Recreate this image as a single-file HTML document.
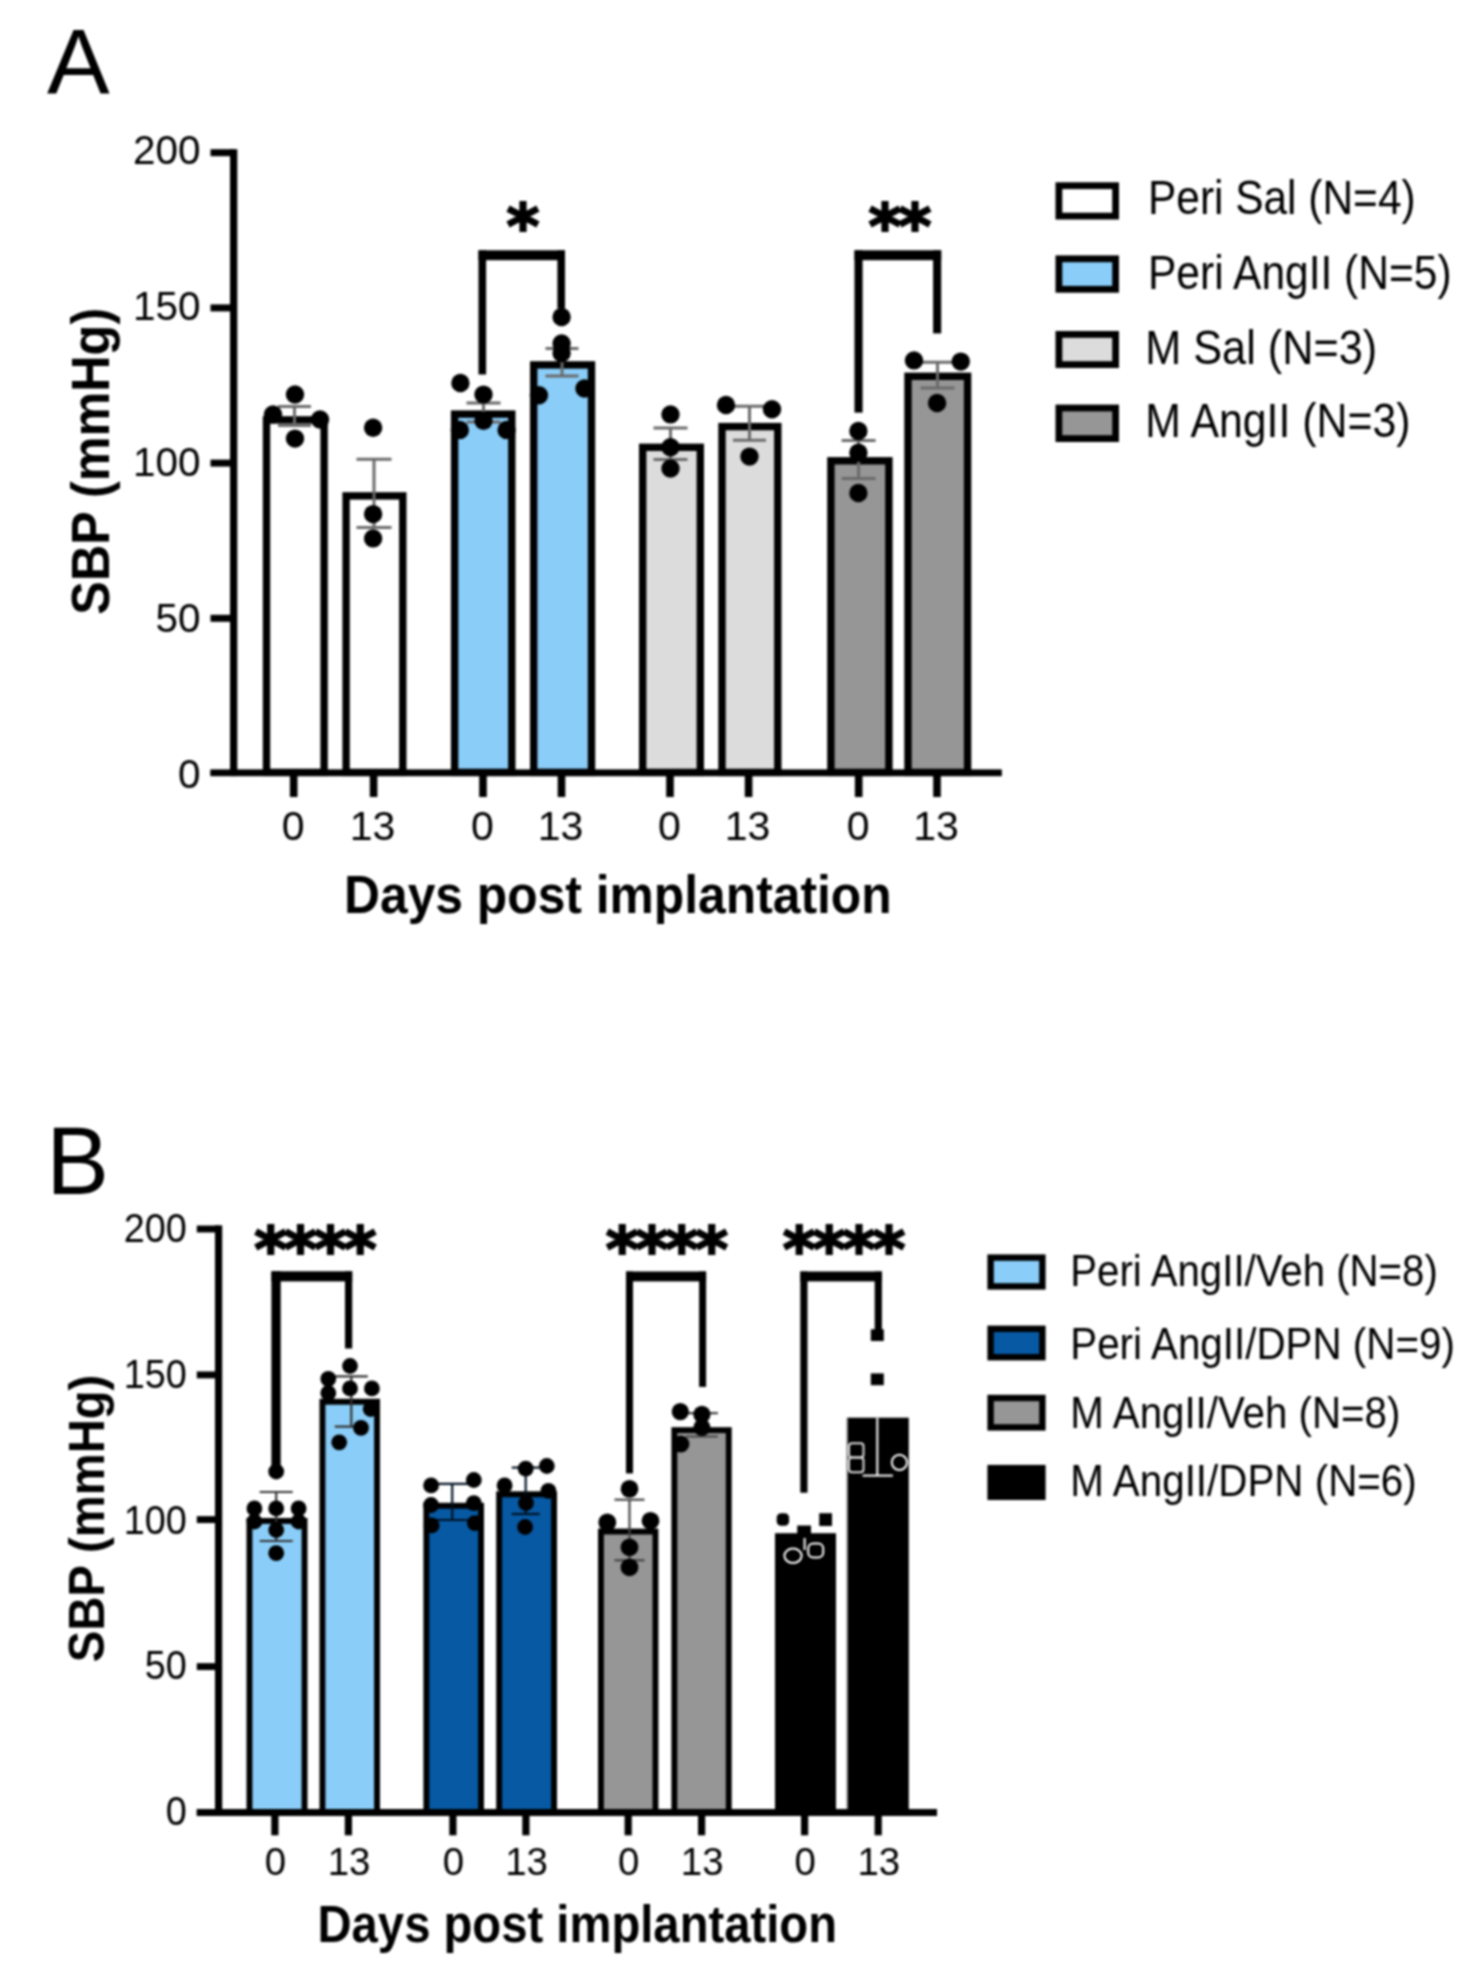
<!DOCTYPE html>
<html><head><meta charset="utf-8"><title>SBP figure</title>
<style>
html,body{margin:0;padding:0;background:#fff;}
svg{display:block;filter:blur(0.8px);}
text{fill:#000;}
</style></head><body>
<svg width="1480" height="1982" viewBox="0 0 1480 1982">
<rect x="0" y="0" width="1480" height="1982" fill="#fff"/>
<text transform="translate(47.06,93.70) scale(1.0062,1)" font-size="93.46" font-weight="normal" font-family="'Liberation Sans', sans-serif" >A</text>
<rect x="230.00" y="149.20" width="7.30" height="626.90" fill="#000"/>
<rect x="210.50" y="769.60" width="791.10" height="6.50" fill="#000"/>
<rect x="210.50" y="149.20" width="23.50" height="7.00" fill="#000"/>
<text x="200.60" y="164.40" font-size="40.5" text-anchor="end" font-weight="normal" font-family="'Liberation Sans', sans-serif" >200</text>
<rect x="210.50" y="304.40" width="23.50" height="7.00" fill="#000"/>
<text x="200.60" y="320.20" font-size="40.5" text-anchor="end" font-weight="normal" font-family="'Liberation Sans', sans-serif" >150</text>
<rect x="210.50" y="459.60" width="23.50" height="7.00" fill="#000"/>
<text x="200.60" y="476.00" font-size="40.5" text-anchor="end" font-weight="normal" font-family="'Liberation Sans', sans-serif" >100</text>
<rect x="210.50" y="614.80" width="23.50" height="7.00" fill="#000"/>
<text x="200.60" y="631.80" font-size="40.5" text-anchor="end" font-weight="normal" font-family="'Liberation Sans', sans-serif" >50</text>
<text x="200.60" y="787.60" font-size="40.5" text-anchor="end" font-weight="normal" font-family="'Liberation Sans', sans-serif" >0</text>
<rect x="266.50" y="419.90" width="57.60" height="352.50" fill="#fff" stroke="#000" stroke-width="7.4"/>
<rect x="346.10" y="495.90" width="56.70" height="276.50" fill="#fff" stroke="#000" stroke-width="7.4"/>
<rect x="454.60" y="414.10" width="57.20" height="358.30" fill="#8ACDF8" stroke="#000" stroke-width="7.4"/>
<rect x="533.70" y="364.90" width="57.80" height="407.50" fill="#8ACDF8" stroke="#000" stroke-width="7.4"/>
<rect x="642.70" y="447.30" width="57.60" height="325.10" fill="#DCDCDC" stroke="#000" stroke-width="7.4"/>
<rect x="722.00" y="426.60" width="55.80" height="345.80" fill="#DCDCDC" stroke="#000" stroke-width="7.4"/>
<rect x="830.90" y="460.80" width="58.00" height="311.60" fill="#969696" stroke="#000" stroke-width="7.4"/>
<rect x="908.00" y="376.30" width="59.60" height="396.10" fill="#969696" stroke="#000" stroke-width="7.4"/>
<line x1="294.50" y1="406.50" x2="294.50" y2="425.50" stroke="#6a6a6a" stroke-width="3" stroke-linecap="butt"/>
<line x1="278.00" y1="406.50" x2="311.00" y2="406.50" stroke="#6a6a6a" stroke-width="3" stroke-linecap="butt"/>
<line x1="278.00" y1="425.50" x2="311.00" y2="425.50" stroke="#6a6a6a" stroke-width="3" stroke-linecap="butt"/>
<line x1="374.00" y1="459.20" x2="374.00" y2="527.50" stroke="#6a6a6a" stroke-width="3" stroke-linecap="butt"/>
<line x1="356.50" y1="459.20" x2="391.50" y2="459.20" stroke="#6a6a6a" stroke-width="3" stroke-linecap="butt"/>
<line x1="356.50" y1="527.50" x2="391.50" y2="527.50" stroke="#6a6a6a" stroke-width="3" stroke-linecap="butt"/>
<line x1="483.50" y1="403.10" x2="483.50" y2="422.00" stroke="#6a6a6a" stroke-width="3" stroke-linecap="butt"/>
<line x1="466.50" y1="403.10" x2="500.50" y2="403.10" stroke="#6a6a6a" stroke-width="3" stroke-linecap="butt"/>
<line x1="466.50" y1="422.00" x2="500.50" y2="422.00" stroke="#6a6a6a" stroke-width="3" stroke-linecap="butt"/>
<line x1="562.00" y1="348.40" x2="562.00" y2="376.10" stroke="#6a6a6a" stroke-width="3" stroke-linecap="butt"/>
<line x1="545.50" y1="348.40" x2="578.50" y2="348.40" stroke="#6a6a6a" stroke-width="3" stroke-linecap="butt"/>
<line x1="545.50" y1="376.10" x2="578.50" y2="376.10" stroke="#6a6a6a" stroke-width="3" stroke-linecap="butt"/>
<line x1="670.50" y1="428.00" x2="670.50" y2="459.40" stroke="#6a6a6a" stroke-width="3" stroke-linecap="butt"/>
<line x1="653.50" y1="428.00" x2="687.50" y2="428.00" stroke="#6a6a6a" stroke-width="3" stroke-linecap="butt"/>
<line x1="653.50" y1="459.40" x2="687.50" y2="459.40" stroke="#6a6a6a" stroke-width="3" stroke-linecap="butt"/>
<line x1="749.50" y1="406.20" x2="749.50" y2="440.30" stroke="#6a6a6a" stroke-width="3" stroke-linecap="butt"/>
<line x1="733.00" y1="406.20" x2="766.00" y2="406.20" stroke="#6a6a6a" stroke-width="3" stroke-linecap="butt"/>
<line x1="733.00" y1="440.30" x2="766.00" y2="440.30" stroke="#6a6a6a" stroke-width="3" stroke-linecap="butt"/>
<line x1="858.60" y1="440.40" x2="858.60" y2="478.40" stroke="#6a6a6a" stroke-width="3" stroke-linecap="butt"/>
<line x1="841.60" y1="440.40" x2="875.60" y2="440.40" stroke="#6a6a6a" stroke-width="3" stroke-linecap="butt"/>
<line x1="841.60" y1="478.40" x2="875.60" y2="478.40" stroke="#6a6a6a" stroke-width="3" stroke-linecap="butt"/>
<line x1="937.50" y1="362.20" x2="937.50" y2="388.10" stroke="#6a6a6a" stroke-width="3" stroke-linecap="butt"/>
<line x1="920.50" y1="362.20" x2="954.50" y2="362.20" stroke="#6a6a6a" stroke-width="3" stroke-linecap="butt"/>
<line x1="920.50" y1="388.10" x2="954.50" y2="388.10" stroke="#6a6a6a" stroke-width="3" stroke-linecap="butt"/>
<circle cx="295.00" cy="394.50" r="9.2" fill="#000"/>
<circle cx="273.00" cy="414.50" r="9.2" fill="#000"/>
<circle cx="320.00" cy="419.50" r="9.2" fill="#000"/>
<circle cx="295.00" cy="438.60" r="9.2" fill="#000"/>
<circle cx="373.10" cy="427.80" r="9.2" fill="#000"/>
<circle cx="373.10" cy="514.10" r="9.2" fill="#000"/>
<circle cx="373.10" cy="538.40" r="9.2" fill="#000"/>
<circle cx="460.40" cy="383.00" r="9.2" fill="#000"/>
<circle cx="483.50" cy="394.60" r="9.2" fill="#000"/>
<circle cx="483.50" cy="420.70" r="9.2" fill="#000"/>
<circle cx="459.80" cy="429.90" r="9.2" fill="#000"/>
<circle cx="506.60" cy="429.90" r="9.2" fill="#000"/>
<circle cx="561.60" cy="317.00" r="9.2" fill="#000"/>
<circle cx="561.60" cy="343.50" r="9.2" fill="#000"/>
<circle cx="561.60" cy="353.00" r="9.2" fill="#000"/>
<circle cx="538.90" cy="395.20" r="9.2" fill="#000"/>
<circle cx="584.50" cy="388.50" r="9.2" fill="#000"/>
<circle cx="670.50" cy="414.40" r="9.2" fill="#000"/>
<circle cx="670.50" cy="447.20" r="9.2" fill="#000"/>
<circle cx="670.50" cy="468.50" r="9.2" fill="#000"/>
<circle cx="726.00" cy="405.00" r="9.2" fill="#000"/>
<circle cx="772.00" cy="409.20" r="9.2" fill="#000"/>
<circle cx="749.50" cy="456.60" r="9.2" fill="#000"/>
<circle cx="858.40" cy="431.00" r="9.2" fill="#000"/>
<circle cx="858.40" cy="452.80" r="9.2" fill="#000"/>
<circle cx="858.40" cy="493.00" r="9.2" fill="#000"/>
<circle cx="914.00" cy="360.40" r="9.2" fill="#000"/>
<circle cx="960.80" cy="361.60" r="9.2" fill="#000"/>
<circle cx="937.10" cy="403.00" r="9.2" fill="#000"/>
<rect x="210.50" y="769.60" width="791.10" height="6.50" fill="#000"/>
<rect x="289.90" y="775.10" width="7.60" height="21.90" fill="#000"/>
<text x="293.10" y="840.00" font-size="41" text-anchor="middle" font-weight="normal" font-family="'Liberation Sans', sans-serif" >0</text>
<rect x="369.80" y="775.10" width="7.60" height="21.90" fill="#000"/>
<text x="372.60" y="840.00" font-size="41" text-anchor="middle" font-weight="normal" font-family="'Liberation Sans', sans-serif" >13</text>
<rect x="479.20" y="775.10" width="7.60" height="21.90" fill="#000"/>
<text x="482.40" y="840.00" font-size="41" text-anchor="middle" font-weight="normal" font-family="'Liberation Sans', sans-serif" >0</text>
<rect x="557.70" y="775.10" width="7.60" height="21.90" fill="#000"/>
<text x="560.50" y="840.00" font-size="41" text-anchor="middle" font-weight="normal" font-family="'Liberation Sans', sans-serif" >13</text>
<rect x="666.20" y="775.10" width="7.60" height="21.90" fill="#000"/>
<text x="669.40" y="840.00" font-size="41" text-anchor="middle" font-weight="normal" font-family="'Liberation Sans', sans-serif" >0</text>
<rect x="744.80" y="775.10" width="7.60" height="21.90" fill="#000"/>
<text x="747.60" y="840.00" font-size="41" text-anchor="middle" font-weight="normal" font-family="'Liberation Sans', sans-serif" >13</text>
<rect x="854.90" y="775.10" width="7.60" height="21.90" fill="#000"/>
<text x="858.10" y="840.00" font-size="41" text-anchor="middle" font-weight="normal" font-family="'Liberation Sans', sans-serif" >0</text>
<rect x="933.20" y="775.10" width="7.60" height="21.90" fill="#000"/>
<text x="936.00" y="840.00" font-size="41" text-anchor="middle" font-weight="normal" font-family="'Liberation Sans', sans-serif" >13</text>
<text transform="translate(344.04,913.20) scale(0.9284,1)" font-size="53.63" font-weight="bold" font-family="'Liberation Sans', sans-serif" >Days post implantation</text>
<text transform="translate(109.20,614.71) rotate(-90) scale(0.9267,1)" font-size="54.36" font-weight="bold" font-family="'Liberation Sans', sans-serif" >SBP (mmHg)</text>
<rect x="478.50" y="250.30" width="7.60" height="124.20" fill="#000"/>
<rect x="557.40" y="250.30" width="7.60" height="58.10" fill="#000"/>
<rect x="478.50" y="250.30" width="86.50" height="9.90" fill="#000"/>
<rect x="854.50" y="250.30" width="8.10" height="162.30" fill="#000"/>
<rect x="933.10" y="250.30" width="8.10" height="83.10" fill="#000"/>
<rect x="854.50" y="250.30" width="86.70" height="9.90" fill="#000"/>
<text x="521.60" y="248.00" font-size="63" text-anchor="middle" font-weight="bold" font-family="'DejaVu Sans', sans-serif" id="astA1" letter-spacing="-2.75" stroke="#000" stroke-width="2" stroke-linejoin="miter">*</text>
<text x="898.60" y="248.00" font-size="63" text-anchor="middle" font-weight="bold" font-family="'DejaVu Sans', sans-serif" id="astA2" letter-spacing="-2.75" stroke="#000" stroke-width="2" stroke-linejoin="miter">**</text>
<rect x="1058.90" y="185.70" width="56.70" height="30.40" fill="#fff" stroke="#000" stroke-width="6.8"/>
<text transform="translate(1148.00,214.20) scale(0.8955,1)" font-size="47.38" font-weight="normal" font-family="'Liberation Sans', sans-serif" >Peri Sal (N=4)</text>
<rect x="1058.90" y="258.80" width="56.70" height="30.50" fill="#8ACDF8" stroke="#000" stroke-width="6.8"/>
<text transform="translate(1147.99,288.90) scale(0.8973,1)" font-size="47.38" font-weight="normal" font-family="'Liberation Sans', sans-serif" >Peri AngII (N=5)</text>
<rect x="1058.90" y="334.40" width="56.70" height="30.20" fill="#DCDCDC" stroke="#000" stroke-width="6.8"/>
<text transform="translate(1145.23,363.60) scale(0.9129,1)" font-size="47.38" font-weight="normal" font-family="'Liberation Sans', sans-serif" >M Sal (N=3)</text>
<rect x="1058.90" y="408.00" width="56.70" height="30.60" fill="#969696" stroke="#000" stroke-width="6.8"/>
<text transform="translate(1145.27,437.20) scale(0.9038,1)" font-size="47.38" font-weight="normal" font-family="'Liberation Sans', sans-serif" >M AngII (N=3)</text>
<text transform="translate(46.34,1193.60) scale(0.9705,1)" font-size="96.95" font-weight="normal" font-family="'Liberation Sans', sans-serif" >B</text>
<rect x="215.00" y="1225.30" width="7.20" height="590.70" fill="#000"/>
<rect x="196.80" y="1809.00" width="740.20" height="7.00" fill="#000"/>
<rect x="196.80" y="1225.55" width="21.20" height="6.90" fill="#000"/>
<text transform="translate(186.7,1242.20) scale(0.945,1)" font-size="40" text-anchor="end" font-family="'Liberation Sans', sans-serif">200</text>
<rect x="196.80" y="1371.45" width="21.20" height="6.90" fill="#000"/>
<text transform="translate(186.7,1387.95) scale(0.945,1)" font-size="40" text-anchor="end" font-family="'Liberation Sans', sans-serif">150</text>
<rect x="196.80" y="1516.15" width="21.20" height="6.90" fill="#000"/>
<text transform="translate(186.7,1533.70) scale(0.945,1)" font-size="40" text-anchor="end" font-family="'Liberation Sans', sans-serif">100</text>
<rect x="196.80" y="1663.15" width="21.20" height="6.90" fill="#000"/>
<text transform="translate(186.7,1679.45) scale(0.945,1)" font-size="40" text-anchor="end" font-family="'Liberation Sans', sans-serif">50</text>
<text transform="translate(186.7,1825.20) scale(0.945,1)" font-size="40" text-anchor="end" font-family="'Liberation Sans', sans-serif">0</text>
<rect x="249.45" y="1520.95" width="55.10" height="292.10" fill="#8ACDF8" stroke="#000" stroke-width="5.9"/>
<rect x="322.45" y="1401.75" width="54.60" height="411.30" fill="#8ACDF8" stroke="#000" stroke-width="5.9"/>
<rect x="426.35" y="1505.75" width="54.70" height="307.30" fill="#0759A3" stroke="#000" stroke-width="5.9"/>
<rect x="499.15" y="1494.25" width="54.90" height="318.80" fill="#0759A3" stroke="#000" stroke-width="5.9"/>
<rect x="600.95" y="1531.55" width="54.50" height="281.50" fill="#969696" stroke="#000" stroke-width="5.9"/>
<rect x="674.35" y="1430.15" width="54.40" height="382.90" fill="#969696" stroke="#000" stroke-width="5.9"/>
<rect x="777.95" y="1536.15" width="55.10" height="276.90" fill="#000" stroke="#000" stroke-width="5.9"/>
<rect x="849.95" y="1420.65" width="55.90" height="392.40" fill="#000" stroke="#000" stroke-width="5.9"/>
<line x1="276.20" y1="1492.00" x2="276.20" y2="1541.00" stroke="#333" stroke-width="2.2" stroke-linecap="butt"/>
<line x1="259.70" y1="1492.00" x2="292.70" y2="1492.00" stroke="#333" stroke-width="2.2" stroke-linecap="butt"/>
<line x1="259.70" y1="1541.00" x2="292.70" y2="1541.00" stroke="#333" stroke-width="2.2" stroke-linecap="butt"/>
<line x1="351.30" y1="1376.30" x2="351.30" y2="1426.60" stroke="#333" stroke-width="2.2" stroke-linecap="butt"/>
<line x1="334.80" y1="1376.30" x2="367.80" y2="1376.30" stroke="#333" stroke-width="2.2" stroke-linecap="butt"/>
<line x1="334.80" y1="1426.60" x2="367.80" y2="1426.60" stroke="#333" stroke-width="2.2" stroke-linecap="butt"/>
<line x1="452.20" y1="1483.80" x2="452.20" y2="1520.00" stroke="#012" stroke-width="2.2" stroke-linecap="butt"/>
<line x1="435.70" y1="1483.80" x2="468.70" y2="1483.80" stroke="#012" stroke-width="2.2" stroke-linecap="butt"/>
<line x1="435.70" y1="1520.00" x2="468.70" y2="1520.00" stroke="#012" stroke-width="2.2" stroke-linecap="butt"/>
<line x1="525.70" y1="1467.60" x2="525.70" y2="1514.00" stroke="#012" stroke-width="2.2" stroke-linecap="butt"/>
<line x1="511.70" y1="1467.60" x2="539.70" y2="1467.60" stroke="#012" stroke-width="2.2" stroke-linecap="butt"/>
<line x1="511.70" y1="1514.00" x2="539.70" y2="1514.00" stroke="#012" stroke-width="2.2" stroke-linecap="butt"/>
<line x1="629.50" y1="1499.70" x2="629.50" y2="1560.30" stroke="#444" stroke-width="2.2" stroke-linecap="butt"/>
<line x1="614.50" y1="1499.70" x2="644.50" y2="1499.70" stroke="#444" stroke-width="2.2" stroke-linecap="butt"/>
<line x1="614.50" y1="1560.30" x2="644.50" y2="1560.30" stroke="#444" stroke-width="2.2" stroke-linecap="butt"/>
<line x1="701.90" y1="1413.20" x2="701.90" y2="1436.50" stroke="#444" stroke-width="2.2" stroke-linecap="butt"/>
<line x1="685.90" y1="1413.20" x2="717.90" y2="1413.20" stroke="#444" stroke-width="2.2" stroke-linecap="butt"/>
<line x1="685.90" y1="1436.50" x2="717.90" y2="1436.50" stroke="#444" stroke-width="2.2" stroke-linecap="butt"/>
<circle cx="276.20" cy="1471.50" r="7.9" fill="#000"/>
<circle cx="254.40" cy="1508.40" r="7.9" fill="#000"/>
<circle cx="276.20" cy="1508.40" r="7.9" fill="#000"/>
<circle cx="298.60" cy="1508.40" r="7.9" fill="#000"/>
<circle cx="254.40" cy="1521.50" r="7.9" fill="#000"/>
<circle cx="298.60" cy="1521.50" r="7.9" fill="#000"/>
<circle cx="276.20" cy="1530.00" r="7.9" fill="#000"/>
<circle cx="276.20" cy="1553.20" r="7.9" fill="#000"/>
<circle cx="350.00" cy="1366.00" r="7.9" fill="#000"/>
<circle cx="328.30" cy="1378.80" r="7.9" fill="#000"/>
<circle cx="350.00" cy="1388.40" r="7.9" fill="#000"/>
<circle cx="371.90" cy="1388.40" r="7.9" fill="#000"/>
<circle cx="328.30" cy="1393.00" r="7.9" fill="#000"/>
<circle cx="370.70" cy="1409.00" r="7.9" fill="#000"/>
<circle cx="361.00" cy="1427.80" r="7.9" fill="#000"/>
<circle cx="339.20" cy="1442.30" r="7.9" fill="#000"/>
<circle cx="431.10" cy="1485.40" r="7.9" fill="#000"/>
<circle cx="473.80" cy="1480.00" r="7.9" fill="#000"/>
<circle cx="431.10" cy="1505.00" r="7.9" fill="#000"/>
<circle cx="473.80" cy="1503.20" r="7.9" fill="#000"/>
<circle cx="431.60" cy="1525.40" r="7.9" fill="#000"/>
<circle cx="474.90" cy="1523.20" r="7.9" fill="#000"/>
<circle cx="525.70" cy="1468.60" r="7.9" fill="#000"/>
<circle cx="546.80" cy="1466.00" r="7.9" fill="#000"/>
<circle cx="504.60" cy="1485.40" r="7.9" fill="#000"/>
<circle cx="548.40" cy="1490.80" r="7.9" fill="#000"/>
<circle cx="526.00" cy="1503.00" r="7.9" fill="#000"/>
<circle cx="525.10" cy="1527.00" r="7.9" fill="#000"/>
<circle cx="629.50" cy="1488.90" r="8.9" fill="#000"/>
<circle cx="607.30" cy="1522.40" r="8.9" fill="#000"/>
<circle cx="650.50" cy="1520.80" r="8.9" fill="#000"/>
<circle cx="629.50" cy="1547.30" r="8.9" fill="#000"/>
<circle cx="629.50" cy="1567.30" r="8.9" fill="#000"/>
<circle cx="680.30" cy="1411.60" r="8.6" fill="#000"/>
<circle cx="701.90" cy="1414.30" r="8.6" fill="#000"/>
<circle cx="701.90" cy="1427.50" r="8.6" fill="#000"/>
<circle cx="680.80" cy="1444.00" r="8.6" fill="#000"/>
<rect x="776.7" y="1513.3" width="12.4" height="12.4" rx="4.5" fill="#000"/>
<rect x="819.20" y="1513.20" width="12.80" height="12.80" fill="#000"/>
<rect x="797.20" y="1525.50" width="13.80" height="12.50" fill="#000"/>
<line x1="804.60" y1="1538.00" x2="804.60" y2="1550.00" stroke="#fff" stroke-width="2" stroke-linecap="butt"/>
<ellipse cx="793" cy="1555.8" rx="8.6" ry="7.2" fill="none" stroke="#fff" stroke-width="2"/>
<rect x="808.2" y="1543.6" width="15" height="13.8" rx="5" fill="none" stroke="#fff" stroke-width="2"/>
<rect x="870.80" y="1329.30" width="13.00" height="11.70" fill="#000"/>
<rect x="870.80" y="1373.40" width="13.00" height="11.80" fill="#000"/>
<line x1="877.30" y1="1418.00" x2="877.30" y2="1475.60" stroke="#fff" stroke-width="2" stroke-linecap="butt"/>
<line x1="862.60" y1="1475.60" x2="892.90" y2="1475.60" stroke="#fff" stroke-width="2" stroke-linecap="butt"/>
<rect x="849" y="1443.2" width="14.5" height="14.4" rx="3" fill="none" stroke="#ddd" stroke-width="2"/>
<rect x="849" y="1457.6" width="14.5" height="14.6" rx="3" fill="none" stroke="#ddd" stroke-width="2"/>
<circle cx="899.4" cy="1462.3" r="7.6" fill="none" stroke="#fff" stroke-width="2"/>
<line x1="847.20" y1="1418.00" x2="847.20" y2="1809.00" stroke="#888" stroke-width="1.6" stroke-linecap="butt"/>
<rect x="196.80" y="1809.00" width="740.20" height="7.00" fill="#000"/>
<rect x="271.30" y="1815.00" width="7.20" height="20.30" fill="#000"/>
<text x="275.50" y="1874.60" font-size="38.4" text-anchor="middle" font-weight="normal" font-family="'Liberation Sans', sans-serif" >0</text>
<rect x="344.80" y="1815.00" width="7.20" height="20.30" fill="#000"/>
<text x="349.00" y="1874.60" font-size="38.4" text-anchor="middle" font-weight="normal" font-family="'Liberation Sans', sans-serif" >13</text>
<rect x="449.30" y="1815.00" width="7.20" height="20.30" fill="#000"/>
<text x="453.50" y="1874.60" font-size="38.4" text-anchor="middle" font-weight="normal" font-family="'Liberation Sans', sans-serif" >0</text>
<rect x="522.30" y="1815.00" width="7.20" height="20.30" fill="#000"/>
<text x="526.50" y="1874.60" font-size="38.4" text-anchor="middle" font-weight="normal" font-family="'Liberation Sans', sans-serif" >13</text>
<rect x="624.60" y="1815.00" width="7.20" height="20.30" fill="#000"/>
<text x="628.80" y="1874.60" font-size="38.4" text-anchor="middle" font-weight="normal" font-family="'Liberation Sans', sans-serif" >0</text>
<rect x="698.00" y="1815.00" width="7.20" height="20.30" fill="#000"/>
<text x="702.20" y="1874.60" font-size="38.4" text-anchor="middle" font-weight="normal" font-family="'Liberation Sans', sans-serif" >13</text>
<rect x="801.00" y="1815.00" width="7.20" height="20.30" fill="#000"/>
<text x="805.20" y="1874.60" font-size="38.4" text-anchor="middle" font-weight="normal" font-family="'Liberation Sans', sans-serif" >0</text>
<rect x="874.60" y="1815.00" width="7.20" height="20.30" fill="#000"/>
<text x="878.80" y="1874.60" font-size="38.4" text-anchor="middle" font-weight="normal" font-family="'Liberation Sans', sans-serif" >13</text>
<text transform="translate(317.51,1941.80) scale(0.8976,1)" font-size="52.62" font-weight="bold" font-family="'Liberation Sans', sans-serif" >Days post implantation</text>
<text transform="translate(104.20,1662.32) rotate(-90) scale(0.9359,1)" font-size="50.44" font-weight="bold" font-family="'Liberation Sans', sans-serif" >SBP (mmHg)</text>
<rect x="271.40" y="1271.30" width="9.30" height="198.70" fill="#000"/>
<rect x="345.00" y="1271.30" width="7.20" height="77.20" fill="#000"/>
<rect x="271.40" y="1271.30" width="80.80" height="10.10" fill="#000"/>
<rect x="626.00" y="1271.50" width="7.00" height="201.90" fill="#000"/>
<rect x="699.10" y="1271.50" width="7.00" height="115.40" fill="#000"/>
<rect x="626.00" y="1271.50" width="80.10" height="9.90" fill="#000"/>
<rect x="800.30" y="1271.50" width="7.20" height="221.20" fill="#000"/>
<rect x="874.70" y="1271.50" width="7.20" height="59.50" fill="#000"/>
<rect x="800.30" y="1271.50" width="81.60" height="9.90" fill="#000"/>
<text x="313.95" y="1270.90" font-size="63" text-anchor="middle" font-weight="bold" font-family="'DejaVu Sans', sans-serif" id="astB0" letter-spacing="-3.1" stroke="#000" stroke-width="2" stroke-linejoin="miter">****</text>
<text x="665.35" y="1270.90" font-size="63" text-anchor="middle" font-weight="bold" font-family="'DejaVu Sans', sans-serif" id="astB1" letter-spacing="-3.1" stroke="#000" stroke-width="2" stroke-linejoin="miter">****</text>
<text x="842.55" y="1270.90" font-size="63" text-anchor="middle" font-weight="bold" font-family="'DejaVu Sans', sans-serif" id="astB2" letter-spacing="-3.1" stroke="#000" stroke-width="2" stroke-linejoin="miter">****</text>
<rect x="990.60" y="1257.60" width="51.80" height="28.80" fill="#8ACDF8" stroke="#000" stroke-width="6.4"/>
<text transform="translate(1070.28,1285.80) scale(0.8922,1)" font-size="45.06" font-weight="normal" font-family="'Liberation Sans', sans-serif" >Peri AngII/Veh (N=8)</text>
<rect x="990.60" y="1328.80" width="51.80" height="28.40" fill="#0759A3" stroke="#000" stroke-width="6.4"/>
<text transform="translate(1070.27,1358.80) scale(0.8955,1)" font-size="45.06" font-weight="normal" font-family="'Liberation Sans', sans-serif" >Peri AngII/DPN (N=9)</text>
<rect x="990.60" y="1398.00" width="51.80" height="29.40" fill="#969696" stroke="#000" stroke-width="6.4"/>
<text transform="translate(1070.28,1427.60) scale(0.8938,1)" font-size="45.06" font-weight="normal" font-family="'Liberation Sans', sans-serif" >M AngII/Veh (N=8)</text>
<rect x="990.60" y="1468.10" width="51.80" height="28.70" fill="#000" stroke="#000" stroke-width="6.4"/>
<text transform="translate(1070.27,1495.80) scale(0.8956,1)" font-size="45.06" font-weight="normal" font-family="'Liberation Sans', sans-serif" >M AngII/DPN (N=6)</text>
</svg>
</body></html>
